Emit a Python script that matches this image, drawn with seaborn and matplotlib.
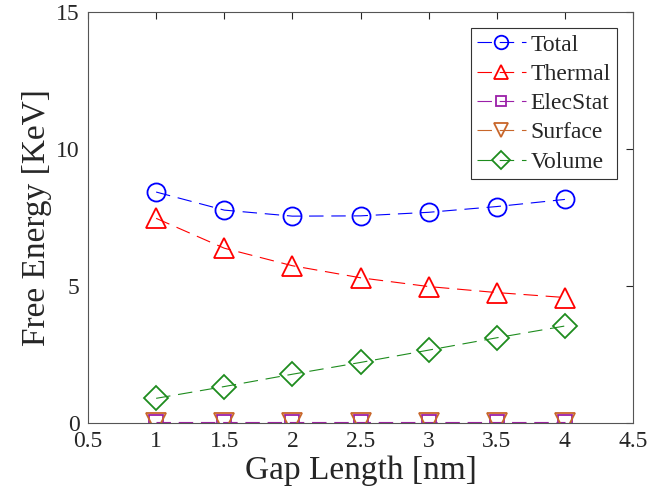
import matplotlib
matplotlib.use("Agg")
import matplotlib.pyplot as plt
import seaborn as sns
import numpy as np

gap_length = [1.0, 1.5, 2.0, 2.5, 3.0, 3.5, 4.0]
total = [8.43, 7.77, 7.55, 7.56, 7.69, 7.90, 8.16]
thermal = [7.47, 6.38, 5.74, 5.30, 4.98, 4.76, 4.58]
elecstat = [0.04, 0.04, 0.04, 0.04, 0.04, 0.04, 0.04]
surface = [0.01, 0.01, 0.01, 0.01, 0.01, 0.01, 0.01]
volume = [0.90, 1.33, 1.78, 2.21, 2.66, 3.11, 3.54]

series_names = ["Total", "Thermal", "ElecStat", "Surface", "Volume"]
series_values = [total, thermal, elecstat, surface, volume]
colors = ["#0000FF", "#FF0000", "#9B1FA8", "#C8662A", "#1E8C1E"]
markers = ["o", "^", "s", "v", "D"]
msizes = [13, 14, 10, 14, 12]

sns.set_style("white")
plt.rcParams["font.family"] = ["Liberation Serif", "DejaVu Serif"]
plt.rcParams["lines.dashed_pattern"] = [13, 7]
plt.rcParams["mathtext.fontset"] = "stix"

fig = plt.figure(figsize=(6.53, 5.01), dpi=100)
ax = fig.add_axes([0.1348, 0.1557, 0.8346, 0.8203])

for name, vals, c, m, ms in zip(series_names, series_values, colors, markers, msizes):
    sns.lineplot(x=gap_length, y=vals, ax=ax, color=c, marker=m, markersize=ms,
                 markerfacecolor="none", markeredgecolor=c, markeredgewidth=1.3,
                 linestyle="--", linewidth=0.8, label=name, estimator=None)

ax.set_xlim(0.5, 4.5)
ax.set_ylim(0, 15)
ax.set_xticks([0.5, 1, 1.5, 2, 2.5, 3, 3.5, 4, 4.5])
ax.set_xticklabels(["0.5", "1", "1.5", "2", "2.5", "3", "3.5", "4", "4.5"])
ax.set_yticks([0, 5, 10, 15])
ax.tick_params(direction="in", length=5, width=0.8, colors="#262626", labelsize=17,
               top=True, right=True, pad=6)
for s in ax.spines.values():
    s.set_color("#555555")
    s.set_linewidth(0.8)
    s.set_visible(True)

ax.set_xlabel("Gap Length [nm]", fontsize=24, color="#262626", labelpad=2)
ax.set_ylabel("Free Energy [KeV]", fontsize=24, color="#262626", labelpad=3)

leg = ax.legend(loc="upper right", fontsize=17, frameon=True, fancybox=False,
                edgecolor="#333333", framealpha=1, handlelength=2.1,
                handletextpad=0.2, labelspacing=0.33, borderpad=0.25,
                markerscale=0.75, borderaxespad=0.68)
leg.get_frame().set_linewidth(0.8)

fig.savefig("out.png", dpi=100)
